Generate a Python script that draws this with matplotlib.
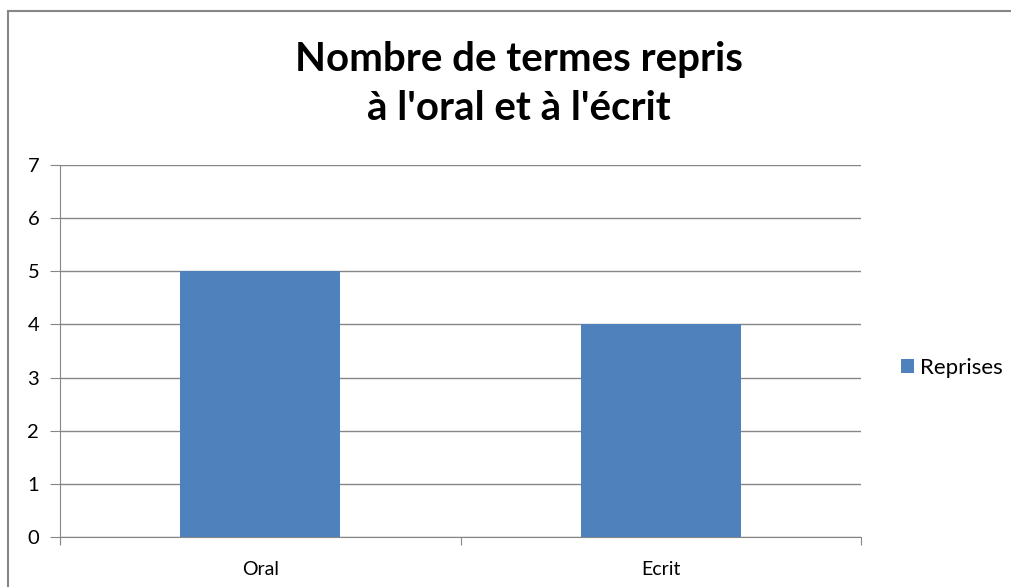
import matplotlib.pyplot as plt
from matplotlib.patches import Rectangle

# donnees du graphique
categories = ["Oral", "Ecrit"]
reprises = [5, 4]
yticks = [0, 1, 2, 3, 4, 5, 6, 7]

gris = "#868686"
bleu = "#4F81BD"

plt.rcParams['font.family'] = ['Lato', 'DejaVu Sans']

fig = plt.figure(figsize=(10.11, 5.87), dpi=100)
W, H = 1011, 587

# cadre exterieur du graphique (seuls les bords haut et gauche sont visibles)
fig.patches.append(Rectangle((8 / W, -0.1), 1.2, (H - 11) / H + 0.1,
                             transform=fig.transFigure, fill=False,
                             edgecolor=gris, linewidth=1.5))

ax = fig.add_axes([60 / W, (H - 537) / H, (861 - 60) / W, (537 - 165) / H])

x = range(len(categories))
ax.bar(x, reprises, width=0.40, color=bleu, label="Reprises", zorder=3)

ax.set_xlim(-0.5, len(categories) - 0.5)
ax.set_ylim(0, 7)
ax.set_yticks(yticks)
ax.set_yticklabels([str(v) for v in yticks], fontsize=14.5)
ax.set_xticks([-0.5, 0.5, 1.5])
ax.set_xticklabels([])
ax.set_xticks(list(x), minor=True)
ax.set_xticklabels(categories, minor=True, fontsize=14)
ax.tick_params(axis='x', which='minor', length=0, pad=17)
ax.tick_params(axis='x', which='major', length=6, color=gris, direction='out')
ax.tick_params(axis='y', length=7, color=gris, pad=8)

ax.grid(axis='y', color=gris, linewidth=1, zorder=0)
for s in ['top', 'right']:
    ax.spines[s].set_visible(False)
ax.spines['left'].set_color(gris)
ax.spines['bottom'].set_color(gris)

fig.text(519 / W, 1 - 59 / H, "Nombre de termes repris", ha='center',
         va='center', fontsize=29, fontweight='bold')
fig.text(519 / W, 1 - 109 / H, "à l'oral et à l'écrit", ha='center',
         va='center', fontsize=29, fontweight='bold')

fig.legend(loc='center left', bbox_to_anchor=(897 / W, 1 - 368 / H),
           frameon=False, fontsize=16, handlelength=0.55, handleheight=0.55,
           handletextpad=0.3, borderpad=0.2, borderaxespad=0)

fig.savefig("out.png", dpi=100)
